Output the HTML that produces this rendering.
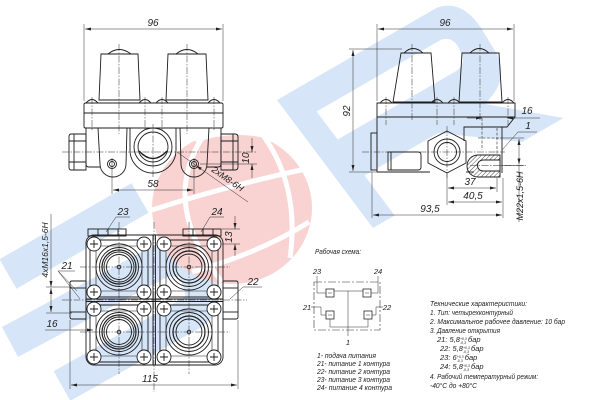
<!DOCTYPE html>
<html><head><meta charset="utf-8">
<style>
html,body{margin:0;padding:0;background:#fff;width:600px;height:400px;overflow:hidden;}
svg{display:block}
text{font-family:"Liberation Sans",sans-serif;font-style:italic;fill:#222}
.l{stroke:#1c1c1c;stroke-width:0.9;fill:none}
.t{stroke:#2a2a2a;stroke-width:0.5;fill:none}
.c{stroke:#2a2a2a;stroke-width:0.5;stroke-dasharray:7 1.5 1.5 1.5;fill:none}
.h{stroke:#2a2a2a;stroke-width:0.6;stroke-dasharray:3 1.5;fill:none}
.d{font-size:10px}
.s{font-size:7.5px}
</style></head><body>
<svg width="600" height="400" viewBox="0 0 600 400" xmlns="http://www.w3.org/2000/svg">
<defs>
<marker id="a" viewBox="0 0 8 4" refX="8" refY="2" markerWidth="7" markerHeight="3" markerUnits="userSpaceOnUse" orient="auto-start-reverse"><path d="M0,0L8,2L0,4z" fill="#222"/></marker>
<pattern id="hp" width="3" height="3" patternUnits="userSpaceOnUse" patternTransform="rotate(45)"><line x1="0" y1="0" x2="0" y2="3" stroke="#222" stroke-width="0.8"/></pattern>
</defs>

<!-- watermark -->
<g fill="none" stroke="#d6e6f8" stroke-width="34" stroke-linejoin="round">
  <path d="M140,198 L8,274"/>
  <path d="M10,342 L161,261 Q190,255 196,272 L202,290 Q205,305 190,314 L62,386"/>
</g>
<g transform="matrix(0.866,-0.5,0.6,0.8,277,100)">
  <path fill-rule="evenodd" fill="#d6e6f8" d="M0,0 L185,0 Q210,5 208,40 L205,70 Q200,100 165,108 L220,160 L172,160 L110,110 L25,110 L25,160 L0,160 Z M25,30 L168,30 Q180,32 178,46 L176,55 Q172,65 160,65 L25,65 Z"/>
</g>
<ellipse cx="232" cy="208" rx="80" ry="76" fill="#f9d2d2"/>
<g fill="none" stroke="#fff" stroke-width="5">
  <path d="M202,138 Q160,205 222,282"/>
  <path d="M152,210 Q230,185 310,168"/>
  <path d="M192,272 Q262,252 309,222"/>
  <path d="M195,140 Q235,126 275,138"/>
  <path d="M262,134 Q300,185 290,258"/>
</g>

<!-- ===== FRONT VIEW ===== -->
<g class="l">
  <path d="M101,54 L138,54 L140,100 L99,100 Z"/>
  <path d="M168,54 L206,54 L208,100 L166,100 Z"/>
  <path d="M108,54 Q119,45 131,54"/>
  <path d="M176,54 Q187,45 198,54"/>
  <path d="M86,103 Q92,96 98,103"/>
  <path d="M139,103 Q145,96 151,103"/>
  <path d="M156,103 Q162,96 168,103"/>
  <path d="M208,103 Q214,96 220,103"/>
  <rect x="84" y="103" width="139" height="25" rx="1.5"/>
  <line x1="84" y1="113" x2="223" y2="113"/>
  <path d="M86,128 L86,164 Q86,167 89,167 L100,167"/>
  <path d="M98,128 L100,164 A13,13 0 0 0 126,164 L127,128"/>
  <path d="M130,128 L130,150 A23,23 0 0 0 176,150 L176,128"/>
  <path d="M180,128 L181,164 A13,13 0 0 0 207,164 L209,128"/>
  <path d="M207,167 L218,167 Q221,167 221,164 L221,128"/>
  <path d="M71,134 L86,134 L86,170 L71,170 Q69,170 69,167 L69,137 Q69,134 71,134 Z"/>
  <line x1="69" y1="141" x2="86" y2="141"/><line x1="69" y1="162" x2="86" y2="162"/>
  <line x1="74" y1="134" x2="74" y2="170"/>
  <path d="M221,134 L235,134 Q238,134 238,137 L238,167 Q238,170 235,170 L221,170 Z"/>
  <line x1="221" y1="141" x2="238" y2="141"/><line x1="221" y1="162" x2="238" y2="162"/>
  <line x1="233" y1="134" x2="233" y2="170"/>
  <circle cx="153" cy="147" r="19"/>
  <circle cx="153" cy="147" r="15"/>
  <path d="M139,151 Q153,166 167,151" stroke-width="1.4"/>
  <circle cx="112" cy="164" r="4.5"/><circle cx="112" cy="164" r="2.5"/>
  <circle cx="194" cy="164" r="4.5"/><circle cx="194" cy="164" r="2.5"/>
</g>
<g class="c">
  <line x1="119" y1="44" x2="119" y2="134"/>
  <line x1="187" y1="44" x2="187" y2="134"/>
  <line x1="92" y1="97" x2="92" y2="130"/><line x1="145" y1="97" x2="145" y2="130"/>
  <line x1="162" y1="97" x2="162" y2="130"/><line x1="214" y1="97" x2="214" y2="130"/>
  <line x1="62" y1="152" x2="256" y2="152"/>
  <line x1="153" y1="124" x2="153" y2="178"/>
</g>
<g class="t">
  <line x1="84" y1="24" x2="84" y2="101"/><line x1="223" y1="24" x2="223" y2="101"/>
  <line x1="85" y1="29" x2="222" y2="29" marker-start="url(#a)" marker-end="url(#a)"/>
  <line x1="112" y1="158" x2="112" y2="194"/><line x1="194" y1="158" x2="194" y2="194"/>
  <line x1="113" y1="190" x2="193" y2="190" marker-start="url(#a)" marker-end="url(#a)"/>
  <line x1="200" y1="164" x2="257" y2="164"/>
  <line x1="252" y1="138" x2="252" y2="152" marker-end="url(#a)"/>
  <line x1="252" y1="178" x2="252" y2="164" marker-end="url(#a)"/>
  <line x1="248" y1="202" x2="196" y2="165.5" marker-end="url(#a)"/>
  <line x1="177" y1="152" x2="196" y2="165.5"/>
</g>
<text class="d" x="153" y="26" text-anchor="middle">96</text>
<text class="d" x="153" y="187" text-anchor="middle">58</text>
<text class="d" transform="translate(249,158) rotate(-90)" text-anchor="middle">10</text>
<text style="font-size:9px" transform="translate(211,171) rotate(35)">2xM8-6H</text>

<!-- ===== SIDE VIEW ===== -->
<g class="l">
  <path d="M401,53 L431,53 L435,102 L393,102 Z"/>
  <path d="M462,53 L499,53 L502,102 L459,102 Z"/>
  <path d="M404,53 Q413,44 423,53"/>
  <path d="M470,53 Q479,44 489,53"/>
  <path d="M380,103 Q386,96 392,103"/>
  <path d="M431,103 Q437,96 443,103"/>
  <path d="M448,103 Q454,96 460,103"/>
  <path d="M502,103 Q508,96 514,103"/>
  <path d="M377,172 L377,103 L515,103 L515,117 L507,127 L464,127 L464,141"/>
  <line x1="377" y1="117" x2="515" y2="117"/>
  <path d="M377,172 L430,172"/>
  <rect x="371" y="133" width="6" height="37"/>
  <path d="M388,152 L418,152 Q421,152 421,155 L421,167 Q421,170 418,170 L388,170 Z"/>
  <line x1="391" y1="152" x2="391" y2="170"/>
  <polygon points="447,131 466,141 466,163 447,173 428,163 428,141"/>
  <circle cx="447" cy="152" r="13"/>
  <circle cx="447" cy="152" r="9.5"/>
  <line x1="502" y1="127" x2="502" y2="173"/>
  <line x1="466" y1="172" x2="474" y2="172"/>
  <path d="M478,155 L500,155 L500,177 L478,177 A11,11 0 0 1 478,155 Z" fill="url(#hp)"/>
  <path d="M483,160 L500,160 L500,171 L483,171 A5.5,5.5 0 0 1 483,160 Z" fill="#fff"/>
</g>
<g class="h">
  <line x1="482" y1="118" x2="482" y2="150"/>
  <line x1="497" y1="128" x2="497" y2="155"/>
  <line x1="478" y1="138" x2="500" y2="138"/>
</g>
<g class="c">
  <line x1="412" y1="44" x2="412" y2="120"/>
  <line x1="480" y1="44" x2="480" y2="120"/>
  <line x1="386" y1="97" x2="386" y2="125"/><line x1="437" y1="97" x2="437" y2="125"/>
  <line x1="454" y1="97" x2="454" y2="125"/><line x1="508" y1="97" x2="508" y2="125"/>
  <line x1="362" y1="152" x2="505" y2="152"/>
  <line x1="447" y1="126" x2="447" y2="178"/>
  <line x1="470" y1="165.5" x2="527" y2="165.5"/>
</g>
<g class="t">
  <line x1="377" y1="24" x2="377" y2="101"/><line x1="514" y1="24" x2="514" y2="101"/>
  <line x1="378" y1="29" x2="513" y2="29" marker-start="url(#a)" marker-end="url(#a)"/>
  <line x1="349" y1="49" x2="402" y2="49"/><line x1="349" y1="172" x2="377" y2="172"/>
  <line x1="353" y1="50" x2="353" y2="171" marker-start="url(#a)" marker-end="url(#a)"/>
  <line x1="467" y1="118" x2="482" y2="118" marker-end="url(#a)"/>
  <line x1="540" y1="118" x2="507" y2="118" marker-end="url(#a)"/>
  <path d="M537,132 L518,132 L502,150"/>
  <line x1="500" y1="138" x2="524" y2="138"/><line x1="500" y1="165.5" x2="524" y2="165.5"/>
  <line x1="519" y1="139" x2="519" y2="164.5" marker-start="url(#a)" marker-end="url(#a)"/>
  <line x1="519" y1="165" x2="519" y2="222"/>
  <line x1="372" y1="172" x2="372" y2="218"/>
  <line x1="447" y1="174" x2="447" y2="205"/>
  <line x1="497" y1="178" x2="497" y2="192"/>
  <line x1="503" y1="178" x2="503" y2="218"/>
  <line x1="448" y1="188" x2="496" y2="188" marker-start="url(#a)" marker-end="url(#a)"/>
  <line x1="448" y1="202" x2="502" y2="202" marker-start="url(#a)" marker-end="url(#a)"/>
  <line x1="373" y1="215" x2="502" y2="215" marker-start="url(#a)" marker-end="url(#a)"/>
</g>
<text class="d" x="445" y="26" text-anchor="middle">96</text>
<text class="d" transform="translate(350,111) rotate(-90)" text-anchor="middle">92</text>
<text class="d" x="527" y="114" text-anchor="middle">16</text>
<text class="d" x="528" y="129" text-anchor="middle">1</text>
<text style="font-size:9px" transform="translate(523,196) rotate(-90)" text-anchor="middle">M22x1,5-6H</text>
<text class="d" x="470" y="185" text-anchor="middle">37</text>
<text class="d" x="473" y="199" text-anchor="middle">40,5</text>
<text class="d" x="430" y="212" text-anchor="middle">93,5</text>

<!-- ===== PLAN VIEW ===== -->
<g class="l">
  <rect x="88" y="229" width="38" height="7"/>
  <line x1="98" y1="229" x2="98" y2="236"/><line x1="108" y1="229" x2="108" y2="236"/><line x1="118" y1="229" x2="118" y2="236"/>
  <rect x="183" y="229" width="38" height="7"/>
  <line x1="193" y1="229" x2="193" y2="236"/><line x1="203" y1="229" x2="203" y2="236"/><line x1="213" y1="229" x2="213" y2="236"/>
  <rect x="86" y="235" width="137" height="130" rx="8"/>
  <line x1="153" y1="235" x2="153" y2="365"/><line x1="155.5" y1="235" x2="155.5" y2="365"/>
  <line x1="86" y1="299" x2="223" y2="299"/><line x1="86" y1="301.5" x2="223" y2="301.5"/>
  <path d="M72,281 L86,281 L86,319 L72,319 Q70,319 70,317 L70,283 Q70,281 72,281 Z"/>
  <line x1="70" y1="288" x2="86" y2="288"/><line x1="70" y1="312" x2="86" y2="312"/>
  <path d="M223,281 L236,281 Q238,281 238,283 L238,317 Q238,319 236,319 L223,319 Z"/>
  <line x1="223" y1="288" x2="238" y2="288"/><line x1="223" y1="312" x2="238" y2="312"/>
</g>
<g class="l" transform="translate(119,267)">
  <rect x="-29" y="-27" width="58" height="57" rx="5"/>
  <rect x="-23" y="-21" width="46" height="45" rx="3" stroke-width="0.6"/>
  <circle r="23"/><circle r="19.5"/><circle r="17" stroke-width="1.2"/><circle r="15"/><circle r="12.5"/>
  <circle r="1.8"/>
  <g fill="#fff"><circle cx="-25" cy="-23" r="7"/><circle cx="25" cy="-23" r="7"/><circle cx="-25" cy="25" r="7"/><circle cx="25" cy="25" r="7"/></g>
  <path d="M-29,-23h8M-25,-27v8M21,-23h8M25,-27v8M-29,25h8M-25,21v8M21,25h8M25,21v8"/>
</g>
<g class="l" transform="translate(119,332)">
  <rect x="-29" y="-27" width="58" height="57" rx="5"/>
  <rect x="-23" y="-21" width="46" height="45" rx="3" stroke-width="0.6"/>
  <circle r="23"/><circle r="19.5"/><circle r="17" stroke-width="1.2"/><circle r="15"/><circle r="12.5"/>
  <circle r="1.8"/>
  <g fill="#fff"><circle cx="-25" cy="-23" r="7"/><circle cx="25" cy="-23" r="7"/><circle cx="-25" cy="25" r="7"/><circle cx="25" cy="25" r="7"/></g>
  <path d="M-29,-23h8M-25,-27v8M21,-23h8M25,-27v8M-29,25h8M-25,21v8M21,25h8M25,21v8"/>
</g>
<g class="l" transform="translate(189,267)">
  <rect x="-29" y="-27" width="58" height="57" rx="5"/>
  <rect x="-23" y="-21" width="46" height="45" rx="3" stroke-width="0.6"/>
  <circle r="23"/><circle r="19.5"/><circle r="16" stroke-width="1.2"/><circle r="13"/>
  <circle r="1.8"/>
  <g fill="#fff"><circle cx="-25" cy="-23" r="7"/><circle cx="25" cy="-23" r="7"/><circle cx="-25" cy="25" r="7"/><circle cx="25" cy="25" r="7"/></g>
  <path d="M-29,-23h8M-25,-27v8M21,-23h8M25,-27v8M-29,25h8M-25,21v8M21,25h8M25,21v8"/>
</g>
<g class="l" transform="translate(189,332)">
  <rect x="-29" y="-27" width="58" height="57" rx="5"/>
  <rect x="-23" y="-21" width="46" height="45" rx="3" stroke-width="0.6"/>
  <circle r="23"/><circle r="19.5"/><circle r="16" stroke-width="1.2"/><circle r="13"/>
  <circle r="1.8"/>
  <g fill="#fff"><circle cx="-25" cy="-23" r="7"/><circle cx="25" cy="-23" r="7"/><circle cx="-25" cy="25" r="7"/><circle cx="25" cy="25" r="7"/></g>
  <path d="M-29,-23h8M-25,-27v8M21,-23h8M25,-27v8M-29,25h8M-25,21v8M21,25h8M25,21v8"/>
</g>
<g class="c">
  <line x1="80" y1="267" x2="230" y2="267"/>
  <line x1="80" y1="332" x2="230" y2="332"/>
  <line x1="62" y1="300" x2="247" y2="300"/>
  <line x1="119" y1="222" x2="119" y2="374"/>
  <line x1="189" y1="222" x2="189" y2="374"/>
  <line x1="154" y1="222" x2="154" y2="392"/>
</g>
<g class="t">
  <path d="M130,217 L116,217 L106,232"/>
  <path d="M224,217 L210,217 L201,232"/>
  <path d="M75,271 L58,271 L80,299"/>
  <line x1="58" y1="271" x2="77" y2="291"/>
  <path d="M262,287 L243,287 L230,299"/>
  <line x1="222" y1="229" x2="240" y2="229"/><line x1="222" y1="244" x2="240" y2="244"/>
  <line x1="235" y1="216" x2="235" y2="229" marker-end="url(#a)"/>
  <line x1="235" y1="256" x2="235" y2="244" marker-end="url(#a)"/>
  <line x1="46" y1="287" x2="72" y2="287"/><line x1="46" y1="313" x2="72" y2="313"/>
  <line x1="51" y1="214" x2="51" y2="287" marker-end="url(#a)"/>
  <line x1="51" y1="312" x2="51" y2="288" marker-start="url(#a)" marker-end="url(#a)"/>
  <line x1="45" y1="330" x2="93" y2="330" marker-end="url(#a)"/>
  <line x1="70" y1="320" x2="70" y2="389"/><line x1="238" y1="320" x2="238" y2="389"/>
  <line x1="71" y1="385" x2="237" y2="385" marker-start="url(#a)" marker-end="url(#a)"/>
</g>
<text class="d" x="123" y="215" text-anchor="middle">23</text>
<text class="d" x="217" y="215" text-anchor="middle">24</text>
<text class="d" x="67" y="269" text-anchor="middle">21</text>
<text class="d" x="253" y="285" text-anchor="middle">22</text>
<text class="d" transform="translate(232,237) rotate(-90)" text-anchor="middle">13</text>
<text style="font-size:8.5px" transform="translate(48,250) rotate(-90)" text-anchor="middle">4xM16x1,5-6H</text>
<text class="d" x="52" y="327" text-anchor="middle">16</text>
<text class="d" x="150" y="382" text-anchor="middle">115</text>

<!-- ===== SCHEME ===== -->
<text class="s" x="315" y="254" textLength="46" lengthAdjust="spacingAndGlyphs">Рабочая схема:</text>
<rect x="314" y="282" width="66" height="48" fill="none" stroke="#333" stroke-width="0.6" stroke-dasharray="8 2 2 2"/>
<g class="t" stroke-width="0.6">
  <path d="M317,276 L317,293 L326,293"/>
  <path d="M371,293 L378,293 L378,276"/>
  <path d="M334,291 L363,291"/>
  <path d="M348,291 L348,336"/>
  <path d="M311,307 L321,307 L321,315 L326,315"/>
  <path d="M383,307 L376,307 L376,315 L372,315"/>
  <path d="M330,319 L330,327 L368,327 L368,319"/>
  <rect x="326" y="289" width="8" height="8" stroke-width="0.8"/>
  <rect x="363" y="289" width="8" height="8" stroke-width="0.8"/>
  <rect x="326" y="311" width="8" height="8" stroke-width="0.8"/>
  <rect x="364" y="311" width="8" height="8" stroke-width="0.8"/>
  <path d="M328,293h4M365,293h4M328,315h4M366,315h4"/>
</g>
<text class="s" x="317" y="274" text-anchor="middle">23</text>
<text class="s" x="378" y="274" text-anchor="middle">24</text>
<text class="s" x="307" y="310" text-anchor="middle">21</text>
<text class="s" x="387" y="310" text-anchor="middle">22</text>
<text class="s" x="348" y="345" text-anchor="middle">1</text>

<text class="s" x="317" y="358" textLength="59" lengthAdjust="spacingAndGlyphs">1- подача питания</text>
<text class="s" x="317" y="366" textLength="73" lengthAdjust="spacingAndGlyphs">21- питание 1 контура</text>
<text class="s" x="317" y="374" textLength="73" lengthAdjust="spacingAndGlyphs">22- питание 2 контура</text>
<text class="s" x="317" y="382" textLength="73" lengthAdjust="spacingAndGlyphs">23- питание 3 контура</text>
<text class="s" x="317" y="390" textLength="75" lengthAdjust="spacingAndGlyphs">24- питание 4 контура</text>

<text class="s" x="430" y="306" textLength="97" lengthAdjust="spacingAndGlyphs">Технические характеристики:</text>
<text class="s" x="430" y="315" textLength="83" lengthAdjust="spacingAndGlyphs">1. Тип: четырехконтурный</text>
<text class="s" x="430" y="324" textLength="135" lengthAdjust="spacingAndGlyphs">2. Максимальное рабочее давление: 10 бар</text>
<text class="s" x="430" y="333" textLength="70" lengthAdjust="spacingAndGlyphs">3. Давление открытия</text>
<text class="s" x="437" y="342">21: 5,8<tspan font-size="3.5" dy="-2">+0,3</tspan><tspan font-size="3.5" dx="-7" dy="4">-0,3</tspan><tspan dy="-2"> бар</tspan></text>
<text class="s" x="440" y="351">22: 5,8<tspan font-size="3.5" dy="-2">+0,3</tspan><tspan font-size="3.5" dx="-7" dy="4">-0,3</tspan><tspan dy="-2"> бар</tspan></text>
<text class="s" x="440" y="360">23: 6<tspan font-size="3.5" dy="-2">+0,3</tspan><tspan font-size="3.5" dx="-7" dy="4">-0,3</tspan><tspan dy="-2"> бар</tspan></text>
<text class="s" x="440" y="369">24: 5,8<tspan font-size="3.5" dy="-2">+0,3</tspan><tspan font-size="3.5" dx="-7" dy="4">-0,3</tspan><tspan dy="-2"> бар</tspan></text>
<text class="s" x="430" y="379" textLength="108" lengthAdjust="spacingAndGlyphs">4. Рабочий температурный режим:</text>
<text class="s" x="430" y="388" textLength="47" lengthAdjust="spacingAndGlyphs">-40°С до +80°С</text>
</svg>
</body></html>
